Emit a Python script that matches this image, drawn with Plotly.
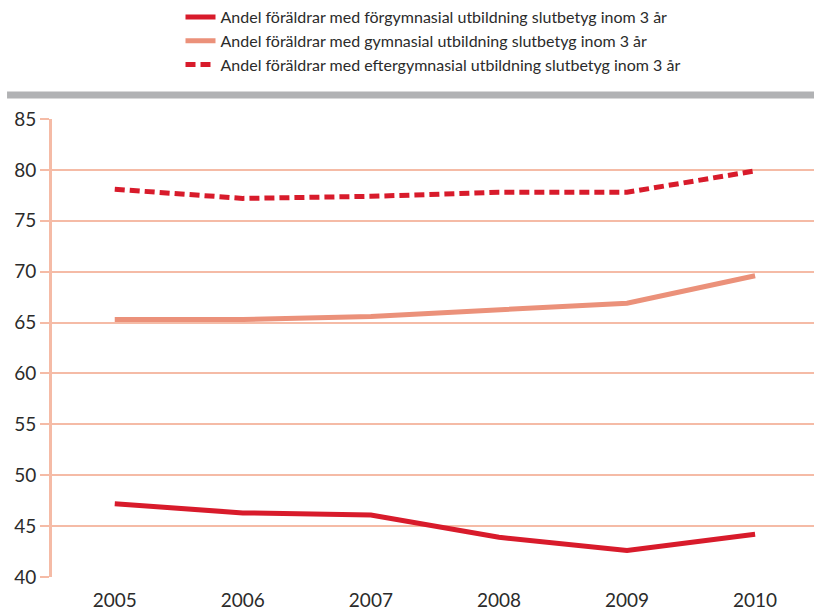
import plotly.graph_objects as go

years = [2005, 2006, 2007, 2008, 2009, 2010]
forgymnasial = [47.2, 46.3, 46.1, 43.9, 42.6, 44.2]
gymnasial = [65.3, 65.3, 65.6, 66.2, 66.9, 69.6]
eftergymnasial = [78.1, 77.2, 77.4, 77.8, 77.8, 79.9]

names = [
    "Andel föräldrar med förgymnasial utbildning slutbetyg inom 3 år",
    "Andel föräldrar med gymnasial utbildning slutbetyg inom 3 år",
    "Andel föräldrar med eftergymnasial utbildning slutbetyg inom 3 år",
]

RED = "#d81b2b"
SALMON = "#eb917a"
GRID = "#f5bba6"

fig = go.Figure()
fig.add_trace(go.Scatter(x=years, y=forgymnasial, mode="lines", name=names[0],
                         line=dict(color=RED, width=5)))
fig.add_trace(go.Scatter(x=years, y=gymnasial, mode="lines", name=names[1],
                         line=dict(color=SALMON, width=5)))
fig.add_trace(go.Scatter(x=years, y=eftergymnasial, mode="lines", name=names[2],
                         line=dict(color=RED, width=5, dash="10px,5px")))

# grey band under the legend
fig.add_shape(type="rect", xref="paper", yref="paper",
              x0=-0.059, x1=1.0, y0=1.045, y1=1.06,
              fillcolor="#b1b2b4", line=dict(width=0), layer="above")

fig.update_layout(
    width=814, height=614,
    margin=dict(l=52, r=0, t=119, b=37),
    paper_bgcolor="white", plot_bgcolor="white",
    font=dict(family="Lato, 'Open Sans', sans-serif", color="#2b2b2b"),
    showlegend=True,
    legend=dict(x=0.5, xanchor="center", y=1.26, yanchor="top",
                orientation="v", font=dict(size=16, color="#2b2b2b"),
                itemwidth=30, bgcolor="rgba(0,0,0,0)", tracegroupgap=0),
    xaxis=dict(range=[2004.51, 2010.46], tickvals=years,
               ticktext=[str(y) for y in years], showgrid=False,
               zeroline=False, showline=False, ticks="",
               ticklabelstandoff=10,
               tickfont=dict(size=19, color="#2b2b2b")),
    yaxis=dict(range=[40, 85], dtick=5, showgrid=True, gridcolor=GRID,
               gridwidth=2, zeroline=False, showline=True, linecolor=GRID,
               linewidth=3, ticks="outside", ticklen=9, tickcolor=GRID,
               tickwidth=2, tickfont=dict(size=19, color="#2b2b2b")),
)

fig.write_html("out.html")
